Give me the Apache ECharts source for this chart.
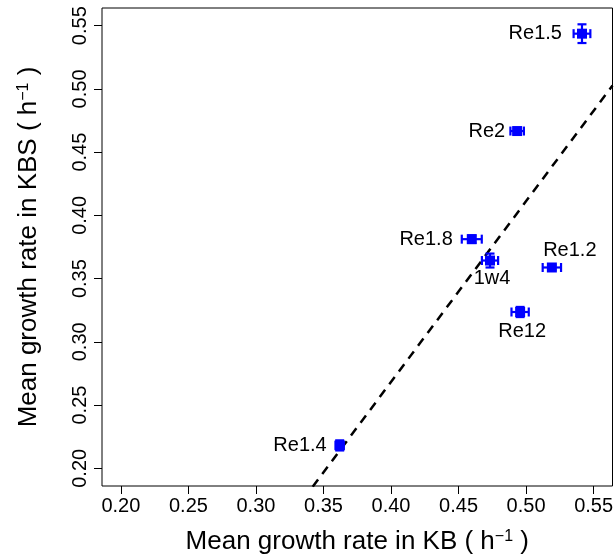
<!DOCTYPE html>
<html>
<head>
<meta charset="utf-8">
<title>Growth rate KB vs KBS</title>
<script src="https://cdn.jsdelivr.net/npm/echarts@6/dist/echarts.min.js"></script>
<style>
  html, body { margin: 0; padding: 0; background: #ffffff; }
  #chart { width: 614px; height: 560px; }
</style>
</head>
<body>
<div id="chart"></div>
<script>
// Strain names and mean growth rates (h^-1) in the two media
const strainNames = ['Re1.5', 'Re2', 'Re1.8', '1w4', 'Re1.2', 'Re12', 'Re1.4'];
const rateKB  = [0.5414, 0.4934, 0.4598, 0.4733, 0.5191, 0.4956, 0.3620];
const rateKBS = [0.5437, 0.4667, 0.3812, 0.3643, 0.3588, 0.3236, 0.2181];
// Error half-widths on each axis
const errKB  = [0.0062, 0.0050, 0.0074, 0.0060, 0.0068, 0.0064, 0.0030];
const errKBS = [0.0074, 0.0020, 0.0030, 0.0055, 0.0020, 0.0040, 0.0040];
// Axis tick values
const tickValues = [0.20, 0.25, 0.30, 0.35, 0.40, 0.45, 0.50, 0.55];

const AXIS_MIN = 0.186, AXIS_MAX = 0.564;
const FONT = '"Liberation Sans", Arial, Helvetica, sans-serif';

// Least-squares fit of KBS rate on KB rate
const n = rateKB.length;
const mx = rateKB.reduce((a, b) => a + b, 0) / n;
const my = rateKBS.reduce((a, b) => a + b, 0) / n;
let sxy = 0, sxx = 0;
for (let i = 0; i < n; i++) {
  sxy += (rateKB[i] - mx) * (rateKBS[i] - my);
  sxx += (rateKB[i] - mx) * (rateKB[i] - mx);
}
const slope = sxy / sxx;
const intercept = my - slope * mx;
const fitLine = [AXIS_MIN, AXIS_MAX].map(x => [x, intercept + slope * x]);

// Label placement for each strain
const labelPlacement = {
  'Re1.5': { position: 'left', distance: 15 },
  'Re2':   { position: 'left', distance: 7 },
  'Re1.8': { position: 'left', distance: 14 },
  '1w4':   { position: 'bottom', distance: 3, offset: [2, 0] },
  'Re1.2': { position: 'top', distance: 2, offset: [18, 0] },
  'Re12':  { position: 'bottom', distance: 4, offset: [2, 0] },
  'Re1.4': { position: 'left', distance: 8 }
};

const labelText = {
  show: true,
  formatter: '{b}',
  fontSize: 20,
  color: '#000000',
  opacity: 1,
  textBorderWidth: 0,
  fontFamily: FONT
};

const points = strainNames.map((name, i) => ({
  name: name,
  value: [rateKB[i], rateKBS[i]],
  label: Object.assign({}, labelText, labelPlacement[name])
}));
const errData = strainNames.map((name, i) => [rateKB[i], rateKBS[i], errKB[i], errKBS[i]]);

function axisCommon(nameText, isY) {
  return {
    type: 'value',
    min: AXIS_MIN,
    max: AXIS_MAX,
    name: nameText,
    nameLocation: 'middle',
    nameGap: isY ? 60 : 43,
    nameTextStyle: {
      fontSize: 26,
      color: '#000',
      fontFamily: FONT,
      rich: {
        sup: { fontSize: 16, color: '#000', fontFamily: FONT, verticalAlign: 'top' }
      }
    },
    axisLine: { show: false },
    splitLine: { show: false },
    axisTick: {
      show: true,
      inside: false,
      length: 8,
      customValues: tickValues,
      lineStyle: { color: '#000', width: 1 }
    },
    axisLabel: {
      show: true,
      customValues: tickValues,
      formatter: v => v.toFixed(2),
      fontSize: 20,
      color: '#000',
      fontFamily: FONT,
      margin: isY ? 12 : 10,
      rotate: isY ? 90 : 0,
      align: 'center',
      verticalAlign: isY ? 'bottom' : 'top'
    }
  };
}

const chart = echarts.init(document.getElementById('chart'), null, { renderer: 'canvas' });
chart.setOption({
  animation: false,
  backgroundColor: '#ffffff',
  grid: {
    left: 102,
    right: 1.5,
    top: 8,
    bottom: 74,
    show: true,
    borderColor: '#000',
    borderWidth: 1,
    backgroundColor: 'transparent',
    containLabel: false,
    outerBoundsMode: 'none'
  },
  xAxis: axisCommon('Mean growth rate in KB ( h{sup|−1} )', false),
  yAxis: axisCommon('Mean growth rate in KBS ( h{sup|−1} )', true),
  series: [
    {
      type: 'line',
      data: fitLine,
      symbol: 'none',
      clip: true,
      silent: true,
      lineStyle: { color: '#000', width: 2.5, type: [9, 7] },
      z: 1
    },
    {
      type: 'custom',
      data: errData,
      encode: { x: 0, y: 1 },
      clip: true,
      z: 2,
      renderItem: function (params, api) {
        const x = api.value(0), y = api.value(1);
        const ex = api.value(2), ey = api.value(3);
        const l = api.coord([x - ex, y]);
        const r = api.coord([x + ex, y]);
        const t = api.coord([x, y + ey]);
        const b = api.coord([x, y - ey]);
        const cap = 4.5;
        const style = { stroke: '#0000ff', lineWidth: 2.2, fill: null };
        const seg = (x1, y1, x2, y2) => ({ type: 'line', shape: { x1, y1, x2, y2 }, style });
        return {
          type: 'group',
          children: [
            seg(l[0], l[1], r[0], r[1]),
            seg(l[0], l[1] - cap, l[0], l[1] + cap),
            seg(r[0], r[1] - cap, r[0], r[1] + cap),
            seg(t[0], t[1], b[0], b[1]),
            seg(t[0] - cap, t[1], t[0] + cap, t[1]),
            seg(b[0] - cap, b[1], b[0] + cap, b[1])
          ]
        };
      }
    },
    {
      type: 'scatter',
      data: points,
      symbol: 'rect',
      symbolSize: 10,
      itemStyle: { color: '#0000ff', opacity: 1 },
      z: 3,
      label: labelText,
      emphasis: { disabled: true }
    }
  ]
});
</script>
</body>
</html>
